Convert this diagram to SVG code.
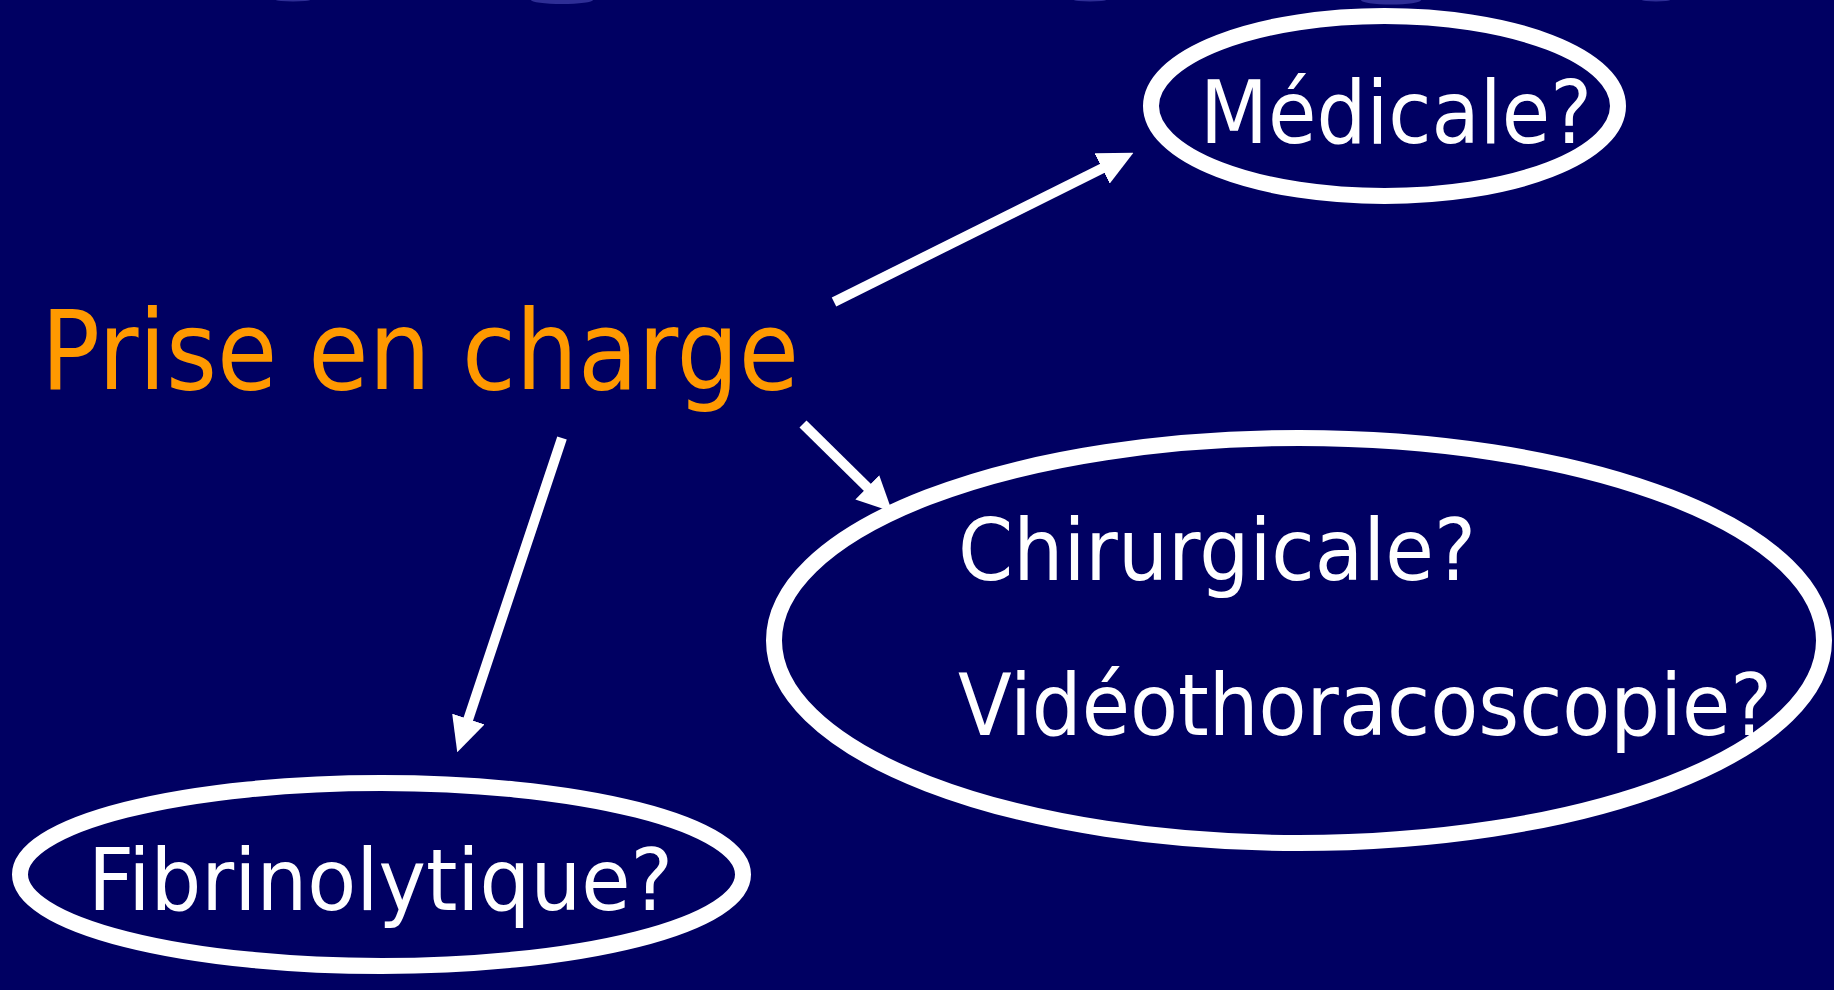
<svg xmlns="http://www.w3.org/2000/svg" width="1834" height="990" viewBox="0 0 1834 990">
  <style>
    .bg { fill: #000062; }
    .bubble { fill: #2e2e96; }
    .node { fill: none; stroke: #ffffff; stroke-width: 16; }
    .lbl { font-family: "DejaVu Sans", "Liberation Sans", sans-serif; fill: #ffffff; }
    .title { font-family: "DejaVu Sans", "Liberation Sans", sans-serif; fill: #FF9900; }
    .conn { stroke: #ffffff; stroke-width: 10; fill: none; marker-end: url(#arrow); }
  </style>
  <defs>
    <marker id="arrow" viewBox="0 0 35 34" markerUnits="userSpaceOnUse" markerWidth="35" markerHeight="34" refX="1" refY="17" orient="auto">
      <path d="M0,0 L35,17 L0,34 Z" fill="#ffffff"/>
    </marker>
  </defs>
  <rect class="bg" x="0" y="0" width="1834" height="990"/>
  <g id="decor">
    <ellipse class="bubble" cx="293" cy="0" rx="17" ry="1.5"/>
    <ellipse class="bubble" cx="562" cy="0" rx="31" ry="4"/>
    <ellipse class="bubble" cx="1090" cy="0" rx="16" ry="1.5"/>
    <ellipse class="bubble" cx="1391" cy="0" rx="30" ry="4.5"/>
    <ellipse class="bubble" cx="1656" cy="0" rx="14" ry="1.5"/>
  </g>
  <g id="connectors">
    <line class="conn" x1="834" y1="302" x2="1103" y2="168"/>
    <line class="conn" x1="803" y1="424" x2="868" y2="488"/>
    <line class="conn" x1="562" y1="438" x2="468" y2="720"/>
  </g>
  <g id="prise">
    <text class="title" x="41" y="389" font-size="110" textLength="758" lengthAdjust="spacingAndGlyphs">Prise en charge</text>
  </g>
  <g id="medicale">
    <ellipse class="node" cx="1384.5" cy="106" rx="233.5" ry="90"/>
    <text class="lbl" x="1200" y="143" font-size="88" textLength="392" lengthAdjust="spacingAndGlyphs">Médicale?</text>
  </g>
  <g id="chirurgicale">
    <ellipse class="node" cx="1299" cy="640.5" rx="525" ry="202.5"/>
    <text class="lbl" x="958" y="580" font-size="85" textLength="518" lengthAdjust="spacingAndGlyphs">Chirurgicale?</text>
    <text class="lbl" x="958" y="735" font-size="85" textLength="814" lengthAdjust="spacingAndGlyphs">Vidéothoracoscopie?</text>
  </g>
  <g id="fibrinolytique">
    <ellipse class="node" cx="381.5" cy="874.5" rx="361.5" ry="91.5"/>
    <text class="lbl" x="88" y="910" font-size="85" textLength="585" lengthAdjust="spacingAndGlyphs">Fibrinolytique?</text>
  </g>
</svg>
